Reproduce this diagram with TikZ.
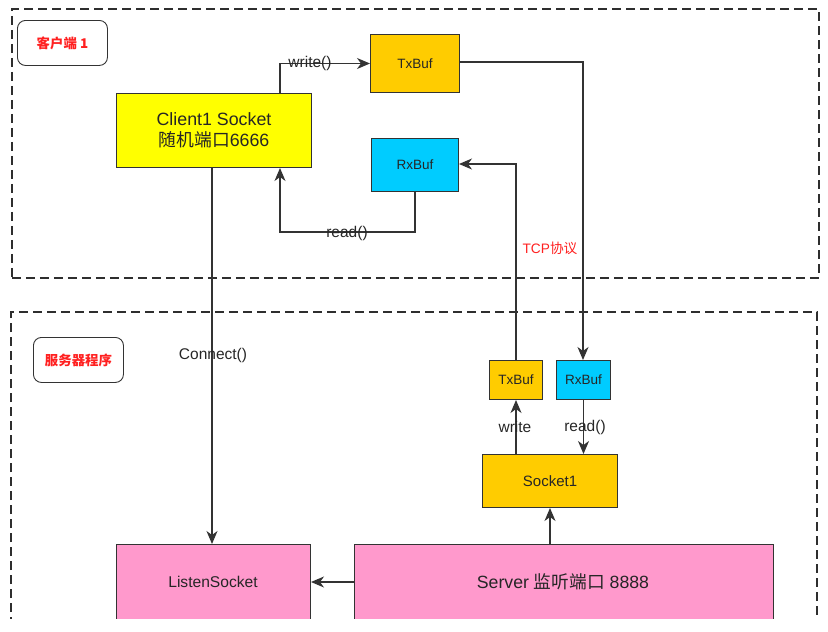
\documentclass[tikz,border=0pt]{standalone}
\usepackage{fontspec}
\setmainfont{Liberation Sans}
\newfontfamily\cjk{Noto Sans CJK SC}
\usetikzlibrary{arrows.meta}
\definecolor{txt}{HTML}{262626}
\definecolor{ln}{HTML}{333333}
\definecolor{yel}{HTML}{FFFF00}
\definecolor{org}{HTML}{FFCC00}
\definecolor{cya}{HTML}{00CCFF}
\definecolor{pnk}{HTML}{FF99CC}
\definecolor{redt}{HTML}{FF2020}
\tikzset{
  box/.style={draw=ln, line width=1pt, inner sep=0pt, text=txt},
  grp/.style={draw=ln!90!black, line width=1.8pt, dash pattern=on 9pt off 5pt},
  tag/.style={draw=ln, line width=0.9pt, rounded corners=8pt, text=redt, font=\cjk\bfseries\fontsize{13.4}{15}\selectfont},
  con/.style={draw=ln, line width=1.1pt},
  arr/.style={con, -{Stealth[length=13pt,width=11pt,inset=4pt]}},
  lbl/.style={text=txt, font=\fontsize{15.5}{18}\selectfont, inner sep=1pt}
}
\begin{document}
\begin{tikzpicture}[x=1pt,y=-1pt]
\useasboundingbox (0,0) rectangle (828,632);
\begin{scope}
\clip (0,0) rectangle (828,618);
% group frames
\node[grp, minimum width=807pt, minimum height=269pt, anchor=north west] (g1) at (11,8) {};
\draw[grp] (11,640) -- (11,312) -- (817,312) -- (817,640);
\coordinate (g2) at (11,312);
% tags
\node[tag, minimum width=90pt, minimum height=45pt, anchor=north west] (t1) at (17,20) {客户端 \textbf{1}};
\node[tag, minimum width=90pt, minimum height=45pt, anchor=north west] (t2) at (33,337) {服务器程序};
% client
\node[box, fill=yel, minimum width=195pt, minimum height=74pt, anchor=north west, align=center, font=\fontsize{17.8}{21}\selectfont] (cs) at (116,93) {Client1 Socket\\{\cjk 随机端口}6666};
\node[box, fill=org, minimum width=89pt, minimum height=58pt, anchor=north west, font=\fontsize{13.5}{15}\selectfont] (ctx) at (370,34) {TxBuf};
\node[box, fill=cya, minimum width=87pt, minimum height=53pt, anchor=north west, font=\fontsize{13.5}{15}\selectfont] (crx) at (371,138) {RxBuf};
% server
\node[box, fill=org, minimum width=53pt, minimum height=39pt, anchor=north west, font=\fontsize{13.5}{15}\selectfont] (stx) at (489,360) {TxBuf};
\node[box, fill=cya, minimum width=54pt, minimum height=39pt, anchor=north west, font=\fontsize{13.5}{15}\selectfont] (srx) at (556,360) {RxBuf};
\node[box, fill=org, minimum width=135pt, minimum height=53pt, anchor=north west, font=\fontsize{15}{17}\selectfont] (s1) at (482,454) {Socket1};
\node[box, fill=pnk, minimum width=419pt, minimum height=76pt, anchor=north west] (srv) at (354,544) {};
\node[text=txt, font=\fontsize{17.7}{21}\selectfont] (srvt) at (563,582) {Server {\cjk 监听端口} 8888};
\node[box, fill=pnk, minimum width=194pt, minimum height=76pt, anchor=north west] (ls) at (116,544) {};
\node[text=txt, font=\fontsize{15.6}{18}\selectfont] (lst) at (213,582) {ListenSocket};
% connectors
\draw[arr] (cs.north west |- cs.north) ++(164,0) coordinate (w0) -- (w0 |- ctx.west) -- (ctx.west);
\node[lbl] (wl) at (310,63) {write()};
\draw[arr] (crx.south west) ++(44,0) coordinate (r0) -- ++(0,40) coordinate (r1) -- (r1 -| w0) -- (w0 |- cs.south);
\node[lbl] (rl) at (347,233) {read()};
\coordinate (tcp1) at (583,62);
\draw[arr] (ctx.east |- tcp1) -- (tcp1) -- (tcp1 |- srx.north);
\coordinate (tcp2) at (516,164);
\draw[arr] (stx.north -| tcp2) -- (tcp2) -- (crx.east |- tcp2);
\node[text=redt, font=\fontsize{13.7}{16}\selectfont] (tcpl) at (550,248) {TCP{\cjk 协议}};
\draw[arr] (s1.north -| stx.south) -- (stx.south);
\node[lbl] (wl2) at (515,427) {write};
\draw[arr] (srx.south) -- (srx.south |- s1.north);
\node[lbl] (rl2) at (585,427) {read()};
\draw[arr] (srv.north -| 550,0) -- (s1.south -| 550,0);
\draw[arr] (srv.west |- lst) -- (ls.east |- lst);
\coordinate (c0) at (212,0);
\draw[arr] (cs.south -| c0) -- (ls.north -| c0);
\node[lbl] (cl) at (213,355) {Connect()};
\end{scope}
\end{tikzpicture}
\end{document}
